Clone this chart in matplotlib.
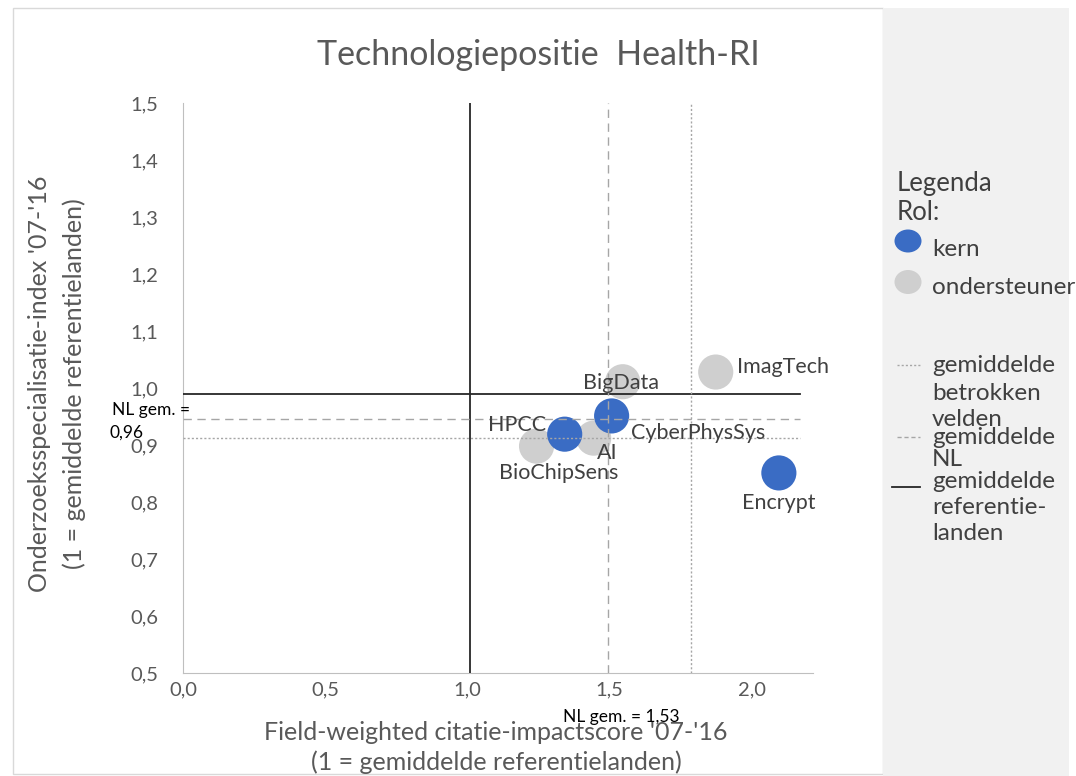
import matplotlib
matplotlib.use("Agg")
import matplotlib.pyplot as plt
from matplotlib.patches import Rectangle, Ellipse
from matplotlib.lines import Line2D

plt.rcParams['font.family'] = ['Lato', 'DejaVu Sans']

## data
fields = ['ImagTech', 'BigData', 'CyberPhysSys', 'HPCC', 'BioChipSens', 'AI', 'Encrypt']
fwci = [1.873, 1.546, 1.507, 1.342, 1.243, 1.444, 2.095]
spec = [1.028, 1.011, 0.951, 0.919, 0.898, 0.912, 0.851]
role = ['ondersteuner', 'ondersteuner', 'kern', 'kern', 'ondersteuner', 'ondersteuner', 'kern']

# label offsets in points (dx, dy) and alignment
label_pos = {
    'ImagTech': (15, 3.5, 'left', 'center'),
    'BigData': (-1.5, -1, 'center', 'center'),
    'CyberPhysSys': (14, -12, 'left', 'center'),
    'HPCC': (-13.5, 6.5, 'right', 'center'),
    'BioChipSens': (16, -19.5, 'center', 'center'),
    'AI': (10, -11, 'center', 'center'),
    'Encrypt': (0, -21.5, 'center', 'center'),
}

ref_x, ref_y = 1.01, 0.99          # gemiddelde referentielanden
nl_x, nl_y = 1.495, 0.946          # gemiddelde NL
field_x, field_y = 1.786, 0.912    # gemiddelde betrokken velden
line_end = 2.17

xticks = [0.0, 0.5, 1.0, 1.5, 2.0]
yticks = [0.5, 0.6, 0.7, 0.8, 0.9, 1.0, 1.1, 1.2, 1.3, 1.4, 1.5]

colors = {'kern': '#3a6cc4', 'ondersteuner': '#cfcfcf'}
txt = '#595959'

fig = plt.figure(figsize=(10.76, 7.76), dpi=100)
W, H = 1076, 776

# outer chart frame and grey legend panel
fig.patches.append(Rectangle((13 / W, 1 - 774 / H), 870 / W, 766 / H,
                             transform=fig.transFigure, facecolor='white',
                             edgecolor='#d9d9d9', lw=1, zorder=-2))
fig.patches.append(Rectangle((883 / W, 0), 186 / W, 768 / H,
                             transform=fig.transFigure, facecolor='#f1f1f1',
                             edgecolor='none', zorder=-2))

ax = fig.add_axes([183 / W, 1 - 673 / H, 630 / W, 570 / H])
ax.set_facecolor('none')

# grey first, blue on top
for r in ['ondersteuner', 'kern']:
    xs = [x for x, rr in zip(fwci, role) if rr == r]
    ys = [y for y, rr in zip(spec, role) if rr == r]
    ax.scatter(xs, ys, s=640, color=colors[r], edgecolor='none', zorder=2)

for name, x, y in zip(fields, fwci, spec):
    dx, dy, ha, va = label_pos[name]
    ax.annotate(name, (x, y), xytext=(dx, dy), textcoords='offset points',
                ha=ha, va=va, fontsize=15.5, color='#404040', zorder=4)

# reference lines
ax.plot([ref_x, ref_x], [0.5, 1.5], color='#262626', lw=1.3, zorder=3)
ax.plot([0, line_end], [ref_y, ref_y], color='#262626', lw=1.3, zorder=3)
ax.plot([nl_x, nl_x], [0.5, 1.5], color='#a6a6a6', lw=1, ls=(0, (6, 4)), zorder=3)
ax.plot([0, line_end], [nl_y, nl_y], color='#a6a6a6', lw=1, ls=(0, (6, 4)), zorder=3)
ax.plot([field_x, field_x], [0.5, 1.5], color='#a6a6a6', lw=1, ls=(0, (1.5, 1.5)), zorder=3)
ax.plot([0, line_end], [field_y, field_y], color='#a6a6a6', lw=1, ls=(0, (1.5, 1.5)), zorder=3)

ax.set_xlim(0, 2.215)
ax.set_ylim(0.5, 1.5)
ax.set_xticks(xticks)
ax.set_yticks(yticks)
ax.set_xticklabels([f'{v:.1f}'.replace('.', ',') for v in xticks])
ax.set_yticklabels([f'{v:.1f}'.replace('.', ',') for v in yticks])
ax.tick_params(length=0, labelsize=14.5, labelcolor=txt)
ax.tick_params(axis='y', pad=18)
ax.tick_params(axis='x', pad=6)
for s in ['top', 'right']:
    ax.spines[s].set_visible(False)
for s in ['left', 'bottom']:
    ax.spines[s].set_color('#bfbfbf')

ax.set_xlabel("Field-weighted citatie-impactscore '07-'16\n(1 = gemiddelde referentielanden)",
              fontsize=18, color=txt, linespacing=1.3, va='center')
ax.xaxis.set_label_coords(0.497, (673 - 747.5) / 570)
ax.set_ylabel("Onderzoeksspecialisatie-index '07-'16\n(1 = gemiddelde referentielanden)",
              fontsize=18, color=txt, linespacing=1.6, va='center')
ax.yaxis.set_label_coords((57 - 183) / 630, (673 - 384) / 570)

fig.text(538 / W, 1 - 65 / H, 'Technologiepositie  Health-RI', ha='center', va='baseline',
         fontsize=24.5, color=txt)

# NL gemiddelde annotations
fig.text(112 / W, 1 - 410 / H, 'NL gem. =', fontsize=12.5, color='black', va='center')
fig.text(110 / W, 1 - 433 / H, '0,96', fontsize=12.5, color='black', va='center')
fig.text(621 / W, 1 - 717 / H, 'NL gem. = 1,53', fontsize=12.5, color='black',
         ha='center', va='center')

# legend in grey panel
lc = '#404040'
fig.text(897 / W, 1 - 184 / H, 'Legenda', fontsize=18.5, color=lc, va='center')
fig.text(897 / W, 1 - 213 / H, 'Rol:', fontsize=18.5, color=lc, va='center')
fig.patches.append(Ellipse((908 / W, 1 - 241 / H), 27 / W, 23 / H, transform=fig.transFigure,
                           facecolor=colors['kern'], edgecolor='none'))
fig.text(932 / W, 1 - 250 / H, 'kern', fontsize=17.5, color=lc, va='center')
fig.patches.append(Ellipse((908 / W, 1 - 282 / H), 27 / W, 24 / H, transform=fig.transFigure,
                           facecolor=colors['ondersteuner'], edgecolor='none'))
fig.text(932 / W, 1 - 288 / H, 'ondersteuner', fontsize=17.5, color=lc, va='center')

legend_lines = [
    (897, 920, 365, '#a6a6a6', (0, (1.5, 1.5)), 1),
    (897, 920, 437, '#a6a6a6', (0, (3, 2)), 1),
    (892, 920, 487, '#262626', '-', 1.3),
]
for x0, x1, yy, c, ls, lw in legend_lines:
    fig.lines.append(Line2D([x0 / W, x1 / W], [1 - yy / H] * 2, transform=fig.transFigure,
                            color=c, lw=lw, ls=ls))

legend_text = [('gemiddelde', 365), ('betrokken', 394), ('velden', 420),
               ('gemiddelde', 438), ('NL', 460), ('gemiddelde', 481),
               ('referentie-', 508), ('landen', 534)]
for t, yy in legend_text:
    fig.text(932 / W, 1 - yy / H, t, fontsize=17.5, color=lc, va='center')

plt.savefig('out.png', dpi=100)
plt.close(fig)
